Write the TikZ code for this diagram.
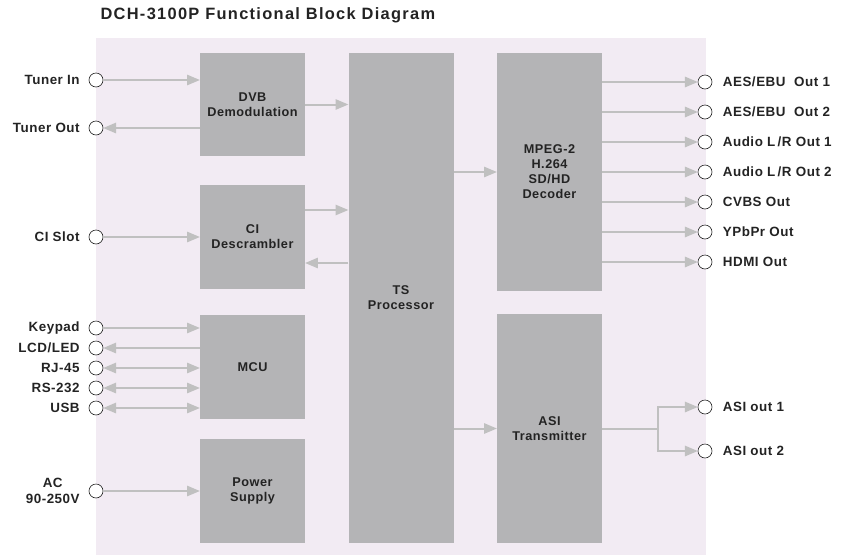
\documentclass[tikz,border=0pt]{standalone}
\usepackage{fontspec}
\setmainfont{Liberation Sans}[LetterSpace=4]
\newfontfamily\titlefont{Liberation Sans}[LetterSpace=8]
\usepackage{tikz}
\usetikzlibrary{arrows}
\definecolor{panel}{RGB}{242,235,243}
\definecolor{blockgray}{RGB}{180,180,182}
\definecolor{wiregray}{RGB}{192,192,192}
\definecolor{inkgray}{RGB}{35,35,35}

\begin{document}
\begin{tikzpicture}[x=1pt,y=-1pt,
    every node/.style={text=inkgray,font=\bfseries\fontsize{12.7}{15}\selectfont},
    block/.style={fill=blockgray,minimum width=105pt,align=center,inner sep=0pt},
    port/.style={circle,draw=inkgray,fill=white,line width=0.6pt,minimum size=14pt,inner sep=0pt},
    sig/.style={draw=wiregray,line width=2pt,-triangle 45},
    bisig/.style={draw=wiregray,line width=2pt,triangle 45-triangle 45}]
  \useasboundingbox (0,0) rectangle (852,555);
  \fill[panel] (96,38) rectangle (706,555);
  \node[anchor=base west,font=\titlefont\bfseries\fontsize{16.4}{19}\selectfont] (title) at (97,19) {DCH-3100P Functional Block Diagram};

  % blocks
  \node[block,minimum height=103pt] (dvb) at (252.5,104.5) {DVB\\Demodulation};
  \node[block,minimum height=104pt] (ci) at (252.5,237) {CI\\Descrambler};
  \node[block,minimum height=104pt] (mcu) at (252.5,367) {MCU};
  \node[block,minimum height=104pt] (power) at (252.5,491) {Power\\Supply};
  \node[block,minimum height=490pt] (ts) at (401,298) {TS\\Processor};
  \node[block,minimum height=238pt] (mpeg) at (549.5,172) {MPEG-2\\H.264\\SD/HD\\Decoder};
  \node[block,minimum height=229pt] (asi) at (549.5,428.5) {ASI\\Transmitter};

  % left ports
  \begin{scope}[every label/.style={text=inkgray,font=\bfseries\fontsize{13.4}{16}\selectfont,label distance=5.5pt}]
    \node[port,label=left:Tuner In] (tunerin) at (96,80) {};
    \node[port,label=left:Tuner Out] (tunerout) at (96,128) {};
    \node[port,label=left:CI Slot] (cislot) at (96,237) {};
    \node[port,label=left:Keypad] (keypad) at (96,328) {};
    \node[port,label=left:LCD/LED] (lcd) at (96,348) {};
    \node[port,label=left:RJ-45] (rj) at (96,368) {};
    \node[port,label=left:RS-232] (rs) at (96,388) {};
    \node[port,label=left:USB] (usb) at (96,408) {};
    \node[port,label={[align=center]left:AC\\90-250V}] (ac) at (96,491) {};
  \end{scope}

  % right ports
  \begin{scope}[every label/.style={text=inkgray,font=\bfseries\fontsize{13.4}{16}\selectfont,label distance=7pt}]
    \node[port,label=right:AES/EBU\ \ Out 1] (aes1) at (705,82) {};
    \node[port,label=right:AES/EBU\ \ Out 2] (aes2) at (705,112) {};
    \node[port,label=right:Audio L\,/R Out 1] (aud1) at (705,142) {};
    \node[port,label=right:Audio L\,/R Out 2] (aud2) at (705,172) {};
    \node[port,label=right:CVBS Out] (cvbs) at (705,202) {};
    \node[port,label=right:YPbPr Out] (ypbpr) at (705,232) {};
    \node[port,label=right:HDMI Out] (hdmi) at (705,262) {};
    \node[port,label=right:ASI out 1] (asi1) at (705,407) {};
    \node[port,label=right:ASI out 2] (asi2) at (705,451) {};
  \end{scope}

  % inputs
  \path[sig] (tunerin) -- (dvb.west |- tunerin);
  \path[sig] (dvb.west |- tunerout) -- (tunerout);
  \path[sig] (cislot) -- (ci.west |- cislot);
  \path[sig] (keypad) -- (mcu.west |- keypad);
  \path[sig] (mcu.west |- lcd) -- (lcd);
  \path[bisig] (rj) -- (mcu.west |- rj);
  \path[bisig] (rs) -- (mcu.west |- rs);
  \path[bisig] (usb) -- (mcu.west |- usb);
  \path[sig] (ac) -- (power.west |- ac);

  % transport stream
  \path[sig] (dvb.east) -- (dvb.east -| ts.west);
  \path[sig] ([yshift=27pt]ci.east) -- ([yshift=27pt]ci.east -| ts.west);
  \path[sig] ([yshift=-26pt]ci.east -| ts.west) -- ([yshift=-26pt]ci.east);
  \path[sig] (ts.east |- mpeg.west) -- (mpeg.west);
  \path[sig] (ts.east |- asi.west) -- (asi.west);

  % outputs
  \foreach \out in {aes1,aes2,aud1,aud2,cvbs,ypbpr,hdmi}
    \path[sig] (mpeg.east |- \out) -- (\out);
  \coordinate (split) at (658,428.5);
  \draw[wiregray,line width=2pt] (asi.east) -- (split);
  \path[sig] (split) |- (asi1);
  \path[sig] (split) |- (asi2);
\end{tikzpicture}
\end{document}
